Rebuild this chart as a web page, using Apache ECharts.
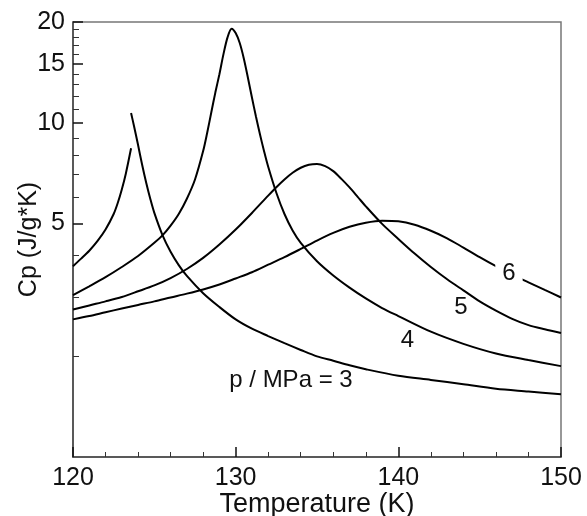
<!DOCTYPE html>
<html><head><meta charset="utf-8">
<script src="https://cdn.jsdelivr.net/npm/echarts@6/dist/echarts.min.js"></script>
<style>html,body{margin:0;padding:0;background:#fff}#c{width:587px;height:516px}</style>
</head><body><div id="c"></div>
<script>
// ---- data (Temperature K, Cp J/g*K) ----
const p3LiquidT  = [120, 120.5, 121, 121.5, 122, 122.5, 122.75, 123, 123.25, 123.57];
const p3LiquidCp = [3.72, 3.92, 4.14, 4.42, 4.79, 5.33, 5.75, 6.31, 7.05, 8.38];
const p3VaporT  = [123.57, 123.75, 124, 124.25, 124.5, 124.75, 125, 125.5, 126, 126.5, 127, 128, 129, 130, 131, 132, 133, 134, 135, 136, 137, 138, 140, 142, 144, 146, 148, 150];
const p3VaporCp = [10.69, 9.77, 8.57, 7.48, 6.61, 5.92, 5.37, 4.61, 4.11, 3.75, 3.48, 3.09, 2.81, 2.58, 2.42, 2.30, 2.19, 2.09, 2.00, 1.94, 1.88, 1.83, 1.75, 1.70, 1.65, 1.60, 1.57, 1.54];
const p4T  = [120, 121, 122, 123, 124, 125, 125.5, 126, 126.5, 127, 127.5, 128, 128.25, 128.5, 128.75, 129, 129.25, 129.5, 129.75, 130, 130.25, 130.5, 130.75, 131, 131.25, 131.5, 131.75, 132, 132.5, 133, 133.5, 134, 135, 136, 137, 138, 139, 140, 142, 144, 146, 148, 150];
const p4Cp = [3.05, 3.24, 3.45, 3.70, 3.99, 4.37, 4.60, 4.92, 5.33, 5.92, 6.76, 8.22, 9.33, 10.72, 12.30, 13.96, 16.03, 17.99, 19.10, 18.53, 17.30, 15.56, 13.65, 11.89, 10.42, 9.20, 8.20, 7.38, 6.17, 5.33, 4.76, 4.37, 3.85, 3.49, 3.21, 2.98, 2.79, 2.64, 2.37, 2.18, 2.04, 1.95, 1.87];
const p5T  = [120, 121, 122, 123, 124, 125, 126, 127, 128, 129, 130, 131, 132, 132.5, 133, 133.5, 134, 134.5, 135, 135.5, 136, 136.5, 137, 137.5, 138, 139, 140, 141, 142, 143, 144, 145, 146, 147, 148, 149, 150];
const p5Cp = [2.76, 2.84, 2.92, 3.01, 3.13, 3.26, 3.43, 3.65, 3.94, 4.32, 4.79, 5.37, 6.05, 6.41, 6.76, 7.08, 7.33, 7.48, 7.52, 7.41, 7.16, 6.79, 6.40, 6.00, 5.62, 4.98, 4.49, 4.06, 3.70, 3.40, 3.15, 2.92, 2.74, 2.59, 2.48, 2.41, 2.35];
const p6T  = [120, 121, 122, 123, 124, 125, 126, 127, 128, 129, 130, 131, 132, 133, 134, 135, 136, 137, 138, 139, 140, 141, 142, 143, 144, 145, 146, 147, 148, 149, 150];
const p6Cp = [2.58, 2.64, 2.71, 2.78, 2.85, 2.92, 3.00, 3.08, 3.17, 3.28, 3.42, 3.57, 3.76, 3.96, 4.19, 4.44, 4.68, 4.88, 5.02, 5.09, 5.07, 4.95, 4.75, 4.51, 4.23, 3.96, 3.72, 3.51, 3.33, 3.16, 3.00];
// curve annotations
const noteText = ['6', '5', '4', 'p / MPa = 3'];
const noteT    = [146.8, 143.85, 140.56, 133.4];
const noteCp   = [3.55, 2.81, 2.23, 1.70];
// axis ticks
const xMin = 120, xMax = 150, xStep = 10;
const yMin = 1, yMax = 20;
const yLabelValues = [5, 10, 15, 20];
const yMinorValues = [2, 3, 4, 6, 7, 8, 9, 11, 12, 13, 14, 16, 17, 18, 19];

const pairs = (t, v) => t.map((x, i) => [x, v[i]]);
const FONT = 'Liberation Sans';
const lineStyle = { color: '#000', width: 2 };
const mkLine = (t, v) => ({
  type: 'line', data: pairs(t, v), showSymbol: false, smooth: 0.3,
  lineStyle, silent: true, z: 2
});

const chart = echarts.init(document.getElementById('c'), null, { renderer: 'canvas' });
chart.setOption({
  animation: false,
  backgroundColor: '#fff',
  grid: { left: 73, right: 26, top: 22, bottom: 59, outerBoundsMode: 'none', containLabel: false,
          show: true, borderColor: '#777', borderWidth: 1.5, backgroundColor: 'transparent' },
  xAxis: {
    type: 'value', min: xMin, max: xMax, interval: xStep,
    name: 'Temperature (K)', nameLocation: 'middle', nameGap: 34, nameMoveOverlap: false,
    nameTextStyle: { fontFamily: FONT, fontSize: 27, color: '#111' },
    axisLine: { lineStyle: { color: '#444', width: 1.5 } },
    axisTick: { inside: true, length: 10, lineStyle: { color: '#111', width: 1.5 } },
    minorTick: { show: true, splitNumber: 5, length: 5, lineStyle: { color: '#333', width: 1 } },
    splitLine: { show: false },
    axisLabel: { fontFamily: FONT, fontSize: 25, color: '#111', margin: 9 }
  },
  yAxis: [{
    type: 'log', logBase: 10, min: yMin, max: yMax,
    name: 'Cp (J/g*K)', nameLocation: 'middle', nameGap: 31, nameRotate: 90, nameMoveOverlap: false,
    nameTextStyle: { fontFamily: FONT, fontSize: 25, color: '#111' },
    axisLine: { show: true, lineStyle: { color: '#444', width: 1.5 } },
    axisTick: { show: true, inside: true, length: 10, customValues: yLabelValues, lineStyle: { color: '#111', width: 1.5 } },
    axisLabel: { fontFamily: FONT, fontSize: 25, color: '#111', margin: 8, customValues: yLabelValues },
    splitLine: { show: false }
  }, {
    type: 'log', logBase: 10, min: yMin, max: yMax, position: 'left',
    axisLine: { show: false },
    axisTick: { show: true, inside: true, length: 6, customValues: yMinorValues, lineStyle: { color: '#333', width: 1 } },
    axisLabel: { show: false },
    splitLine: { show: false }
  }],
  series: [
    mkLine(p3LiquidT, p3LiquidCp),
    mkLine(p3VaporT, p3VaporCp),
    mkLine(p4T, p4Cp),
    mkLine(p5T, p5Cp),
    mkLine(p6T, p6Cp),
    {
      type: 'scatter', symbolSize: 0, silent: true, z: 5,
      itemStyle: { opacity: 1 },
      data: noteText.map((s, i) => ({
        value: [noteT[i], noteCp[i], s],
        label: i === 0 ? { backgroundColor: '#fff', padding: [0, 7] } : {}
      })),
      label: { show: true, position: 'inside', formatter: p => p.data.value[2], fontFamily: FONT, fontSize: 24, color: '#111' }
    }
  ]
});
</script></body></html>
